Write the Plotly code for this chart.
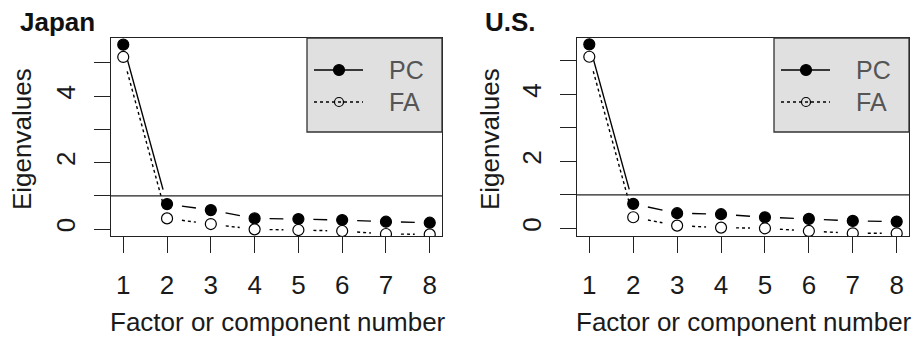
import math
import plotly.graph_objects as go

# ---------------- data ----------------
factor_number = [1, 2, 3, 4, 5, 6, 7, 8]
japan_pc = [5.55, 0.75, 0.57, 0.32, 0.30, 0.27, 0.22, 0.19]
japan_fa = [5.18, 0.32, 0.15, -0.01, -0.03, -0.06, -0.15, -0.16]
us_pc = [5.49, 0.73, 0.45, 0.42, 0.33, 0.28, 0.22, 0.20]
us_fa = [5.12, 0.33, 0.08, 0.02, 0.00, -0.08, -0.15, -0.15]
panel_titles = ["Japan", "U.S."]
series_names = ["PC", "FA"]
y_tick_values = [0, 1, 2, 3, 4, 5]
y_tick_labels = ["0", "", "2", "", "4", ""]
x_title = "Factor or component number"
y_title = "Eigenvalues"
reference_line = 1

# ---------------- layout constants (pixels) ----------------
W, H = 921, 338
FONT = "Liberation Sans, Arial, Helvetica, sans-serif"
INK = "#1a1a1a"
panels = [
    dict(x0=111, x1=442, yrange=[-0.21, 5.75], pc=japan_pc, fa=japan_fa, title=panel_titles[0],
         title_x=18, ytitle_x=22),
    dict(x0=577, x1=909, yrange=[-0.23, 5.68], pc=us_pc, fa=us_fa, title=panel_titles[1],
         title_x=483, ytitle_x=490),
]
TOP, BOTTOM = 38, 236
XRANGE = [0.72, 8.28]
GAP = 15  # px gap around points (R type="b")


def px(x):
    return x / W


def py(y):
    return 1 - y / H


def gapped(xs, ys, sx, sy):
    ox, oy = [], []
    for i in range(len(xs) - 1):
        dx = (xs[i + 1] - xs[i]) * sx
        dy = (ys[i + 1] - ys[i]) * sy
        L = math.hypot(dx, dy)
        if L <= 2 * GAP:
            continue
        f = GAP / L
        ox += [xs[i] + f * (xs[i + 1] - xs[i]), xs[i + 1] - f * (xs[i + 1] - xs[i]), None]
        oy += [ys[i] + f * (ys[i + 1] - ys[i]), ys[i + 1] - f * (ys[i + 1] - ys[i]), None]
    return ox, oy


fig = go.Figure()
shapes = []
annotations = []

for k, p in enumerate(panels):
    n = "" if k == 0 else str(k + 1)
    xa, ya = "x" + n, "y" + n
    sx = (p["x1"] - p["x0"]) / (XRANGE[1] - XRANGE[0])
    sy = (BOTTOM - TOP) / (p["yrange"][1] - p["yrange"][0])

    for vals, dash, fill in [(p["pc"], "solid", "black"), (p["fa"], "dot", "white")]:
        lx, ly = gapped(factor_number, vals, sx, sy)
        fig.add_trace(go.Scatter(x=lx, y=ly, mode="lines", xaxis=xa, yaxis=ya,
                                 line=dict(color="black", width=1.4, dash=dash),
                                 showlegend=False, hoverinfo="skip", cliponaxis=True))
        fig.add_trace(go.Scatter(x=factor_number, y=vals, mode="markers", xaxis=xa, yaxis=ya,
                                 marker=dict(size=11, color=fill, line=dict(color="black", width=1.2)),
                                 showlegend=False, cliponaxis=True))

    axis_common = dict(showgrid=False, zeroline=False, showline=True, mirror=True,
                       linecolor="#222", linewidth=1.3, ticks="outside", ticklen=16,
                       tickwidth=1.2, tickcolor="#222",
                       tickfont=dict(family=FONT, size=26, color=INK))
    fig.update_layout(**{
        "xaxis" + n: dict(axis_common, domain=[px(p["x0"]), px(p["x1"])], range=XRANGE,
                          tickvals=factor_number, anchor=ya, ticklabelstandoff=10),
        "yaxis" + n: dict(axis_common, domain=[py(BOTTOM), py(TOP)], range=p["yrange"],
                          tickvals=y_tick_values, ticktext=y_tick_labels, tickangle=-90,
                          anchor=xa, ticklabelstandoff=8),
    })

    # reference line at y = 1
    shapes.append(dict(type="line", xref=xa + " domain", yref=ya, x0=0, x1=1,
                       y0=reference_line, y1=reference_line, line=dict(color="#222", width=1.3)))

    # legend box
    lx0, lx1, ly0, ly1 = p["x1"] - 135, p["x1"], TOP, 132
    shapes.append(dict(type="rect", xref="paper", yref="paper", x0=px(lx0), x1=px(lx1),
                       y0=py(ly1), y1=py(ly0), fillcolor="#e0e0e0",
                       line=dict(color="#333", width=1.3)))
    for j, (name, dash, fill, msz) in enumerate([(series_names[0], "solid", "black", 11),
                                                 (series_names[1], "dot", "rgba(0,0,0,0)", 9)]):
        yy = 70 + j * 32
        shapes.append(dict(type="line", xref="paper", yref="paper", x0=px(lx0 + 7), x1=px(lx0 + 56),
                           y0=py(yy), y1=py(yy), line=dict(color="black", width=1.3, dash=dash)))
        cx = lx0 + 32
        shapes.append(dict(type="circle", xref="paper", yref="paper",
                           x0=px(cx - msz / 2), x1=px(cx + msz / 2),
                           y0=py(yy + msz / 2), y1=py(yy - msz / 2),
                           fillcolor=fill, line=dict(color="black", width=1.2)))
        annotations.append(dict(text=name, xref="paper", yref="paper", x=px(lx0 + 80), y=py(yy),
                                xanchor="left", yanchor="middle", showarrow=False,
                                font=dict(family=FONT, size=25, color="#555")))

    # titles
    annotations.append(dict(text="<b>%s</b>" % p["title"], xref="paper", yref="paper",
                            x=px(p["title_x"]), y=py(22), xanchor="left", yanchor="middle",
                            showarrow=False, font=dict(family=FONT, size=26, color="#111")))
    annotations.append(dict(text=x_title, xref="paper", yref="paper",
                            x=px((p["x0"] + p["x1"]) / 2 + 1), y=py(322), xanchor="center",
                            yanchor="middle", showarrow=False,
                            font=dict(family=FONT, size=26, color=INK)))
    annotations.append(dict(text=y_title, xref="paper", yref="paper",
                            x=px(p["ytitle_x"]), y=py(139), xanchor="center", yanchor="middle",
                            textangle=-90, showarrow=False,
                            font=dict(family=FONT, size=26, color=INK)))

fig.update_layout(width=W, height=H, margin=dict(l=0, r=0, t=0, b=0),
                  paper_bgcolor="white", plot_bgcolor="white", showlegend=False,
                  shapes=shapes, annotations=annotations)

fig.write_html("out.html", config={"displayModeBar": False},
               post_script="document.body.style.margin='0';document.body.style.overflow='hidden';")
